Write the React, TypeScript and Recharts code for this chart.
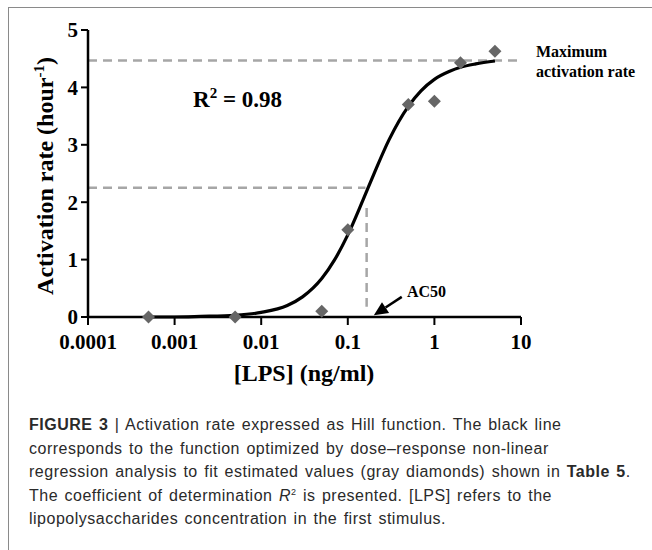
import {
  ComposedChart,
  Line,
  Scatter,
  XAxis,
  YAxis,
  ReferenceLine,
} from "recharts";

// estimated activation rates (gray diamonds)
const lpsDoses = [0.0005, 0.005, 0.05, 0.1, 0.5, 1, 2, 5];
const activationRates = [0.0, 0.0, 0.1, 1.52, 3.7, 3.76, 4.43, 4.63];

// fitted hill curve
const curveDoses = [
  0.0005, 0.001, 0.002, 0.005, 0.01, 0.02, 0.03, 0.05, 0.07, 0.1, 0.15, 0.2,
  0.3, 0.5, 0.7, 1, 1.5, 2, 3, 5,
];
const curveRates = [
  0.0, 0.0, 0.01, 0.03, 0.08, 0.2, 0.35, 0.67, 0.99, 1.43, 2.04, 2.49, 3.09,
  3.67, 3.94, 4.14, 4.28, 4.35, 4.41, 4.46,
];

const xTicks = [0.0001, 0.001, 0.01, 0.1, 1, 10];
const yTicks = [0, 1, 2, 3, 4, 5];

const maxRate = 4.47;
const halfRate = 2.25;
const ac50 = 0.165;

const points = lpsDoses.map((x, i) => ({ x, y: activationRates[i] }));
const curve = curveDoses.map((x, i) => ({ x, y: curveRates[i] }));

const serif = "'Liberation Serif', 'Times New Roman', serif";
const sans = "'Liberation Sans', Arial, Helvetica, sans-serif";

const fmtTick = (v: number) => {
  if (v >= 1) return String(v);
  return v.toFixed(Math.round(-Math.log10(v)));
};

const Diamond = (props: any) => {
  const { cx, cy } = props;
  if (cx == null || cy == null) return null;
  const r = 6.5;
  return (
    <polygon
      points={`${cx},${cy - r} ${cx + r},${cy} ${cx},${cy + r} ${cx - r},${cy}`}
      fill="#666666"
    />
  );
};

const Arrow = (props: any) => {
  const { x1, y1, x2, y2 } = props;
  const ang = Math.atan2(y2 - y1, x2 - x1);
  const len = 14;
  const w = 6.5;
  const bx = x2 - len * Math.cos(ang);
  const by = y2 - len * Math.sin(ang);
  const px = -Math.sin(ang) * w;
  const py = Math.cos(ang) * w;
  return (
    <g>
      <line x1={x1} y1={y1} x2={bx} y2={by} stroke="#000" strokeWidth={2.5} />
      <polygon
        points={`${x2},${y2} ${bx + px},${by + py} ${bx - px},${by - py}`}
        fill="#000"
      />
    </g>
  );
};

const dash = { stroke: "#a6a6a6", strokeWidth: 2.5, strokeDasharray: "9 6" };

export default function App() {
  return (
    <div
      style={{
        position: "absolute",
        left: 0,
        top: 0,
        width: 652,
        height: 550,
        background: "#fff",
        overflow: "hidden",
      }}
    >
      <div
        style={{
          position: "absolute",
          left: 8,
          top: 7,
          width: 660,
          height: 560,
          borderLeft: "1px solid #8a8a8a",
          borderTop: "1px solid #8a8a8a",
        }}
      />
      <ComposedChart
        width={652}
        height={400}
        margin={{ top: 30, right: 131, left: 28, bottom: 43 }}
        style={{ position: "absolute", left: 0, top: 0 }}
      >
        <XAxis
          dataKey="x"
          type="number"
          scale="log"
          domain={[0.0001, 10]}
          ticks={xTicks}
          tickFormatter={fmtTick}
          allowDataOverflow
          height={40}
          tickSize={8}
          tickMargin={9}
          axisLine={{ stroke: "#000", strokeWidth: 2.5 }}
          tickLine={{ stroke: "#000", strokeWidth: 2 }}
          tick={{ fill: "#000", fontFamily: serif, fontWeight: 700, fontSize: 21 }}
        />
        <YAxis
          dataKey="y"
          type="number"
          domain={[0, 5]}
          ticks={yTicks}
          width={60}
          tickSize={7}
          tickMargin={3}
          axisLine={{ stroke: "#000", strokeWidth: 2.5 }}
          tickLine={{ stroke: "#000", strokeWidth: 2 }}
          tick={{ fill: "#000", fontFamily: serif, fontWeight: 700, fontSize: 21 }}
        />
        <ReferenceLine
          segment={[
            { x: 0.0001, y: maxRate },
            { x: 9, y: maxRate },
          ]}
          {...dash}
        />
        <ReferenceLine
          segment={[
            { x: 0.0001, y: halfRate },
            { x: 0.16, y: halfRate },
          ]}
          {...dash}
        />
        <ReferenceLine
          segment={[
            { x: ac50, y: 1.9 },
            { x: ac50, y: 0.18 },
          ]}
          {...dash}
        />
        <ReferenceLine
          segment={[
            { x: 0.42, y: 0.35 },
            { x: 0.2, y: 0.03 },
          ]}
          shape={Arrow}
        />
        <Line
          data={curve}
          dataKey="y"
          type="monotone"
          stroke="#000"
          strokeWidth={3.2}
          dot={false}
          isAnimationActive={false}
        />
        <Scatter
          data={points}
          dataKey="y"
          shape={Diamond}
          isAnimationActive={false}
        />
      </ComposedChart>

      {/* axis titles and notes */}
      <div
        style={{
          position: "absolute",
          left: 45,
          top: 176,
          transform: "translate(-50%, -50%) rotate(-90deg)",
          whiteSpace: "nowrap",
          fontFamily: serif,
          fontWeight: 700,
          fontSize: 24,
          lineHeight: "24px",
        }}
      >
        Activation rate (hour
        <sup style={{ fontSize: 15, lineHeight: 0 }}>-1</sup>)
      </div>
      <div
        style={{
          position: "absolute",
          left: 304,
          top: 360,
          transform: "translateX(-50%)",
          whiteSpace: "nowrap",
          fontFamily: serif,
          fontWeight: 700,
          fontSize: 24,
        }}
      >
        [LPS] (ng/ml)
      </div>
      <div
        style={{
          position: "absolute",
          left: 193,
          top: 87,
          whiteSpace: "nowrap",
          fontFamily: serif,
          fontWeight: 700,
          fontSize: 23,
        }}
      >
        R<sup style={{ fontSize: 15, lineHeight: 0 }}>2</sup> = 0.98
      </div>
      <div
        style={{
          position: "absolute",
          left: 536,
          top: 42,
          fontFamily: serif,
          fontWeight: 700,
          fontSize: 16,
          lineHeight: "20px",
        }}
      >
        Maximum
        <br />
        activation rate
      </div>
      <div
        style={{
          position: "absolute",
          left: 407,
          top: 283,
          fontFamily: serif,
          fontWeight: 700,
          fontSize: 16,
        }}
      >
        AC50
      </div>

      <div
        style={{
          position: "absolute",
          left: 29,
          top: 413,
          fontFamily: sans,
          fontSize: 16,
          letterSpacing: 0.5,
          wordSpacing: 1.5,
          lineHeight: "23.5px",
          color: "#2a2a2a",
          whiteSpace: "nowrap",
        }}
      >
        <div>
          <b>FIGURE 3</b> | Activation rate expressed as Hill function. The black line
        </div>
        <div>corresponds to the function optimized by dose–response non-linear</div>
        <div>
          regression analysis to fit estimated values (gray diamonds) shown in{" "}
          <b>Table 5</b>.
        </div>
        <div>
          The coefficient of determination <i>R</i>
          <sup style={{ fontSize: 9, lineHeight: 0 }}>2</sup> is presented. [LPS]
          refers to the
        </div>
        <div>lipopolysaccharides concentration in the first stimulus.</div>
      </div>
    </div>
  );
}
